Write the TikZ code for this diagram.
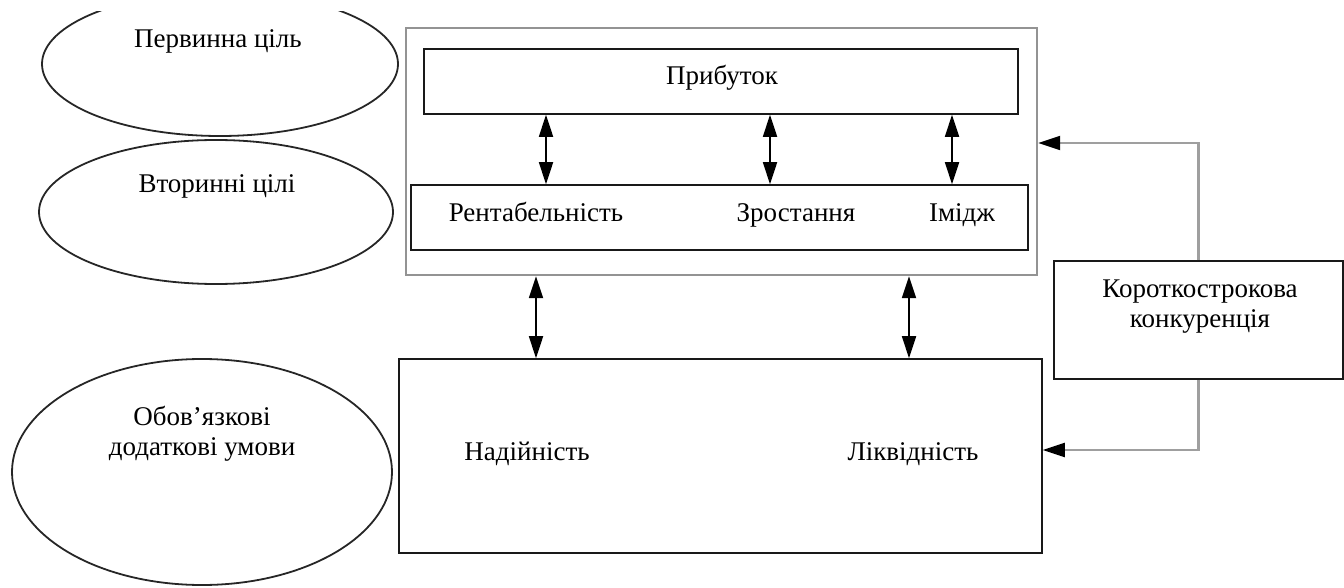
\documentclass[tikz,border=0pt]{standalone}
\usepackage{fontspec}
\setmainfont{Liberation Serif}
\usetikzlibrary{arrows.meta,positioning,shapes.geometric}
\tikzset{
  >={Triangle[length=11pt,width=7pt]},
  goal/.style={ellipse, draw=black!85, line width=0.9pt, inner sep=0pt},
  box/.style={rectangle, draw=black!90, line width=0.8pt, inner sep=0pt, fill=white},
  lbl/.style={font=\fontsize{13.5}{15}\selectfont, align=center, inner sep=0pt, anchor=base},
  link/.style={<->, line width=0.9pt},
  feed/.style={-{Triangle[length=11pt,width=7pt,color=black]}, draw=gray!75, line width=1.1pt}
}
\begin{document}
\begin{tikzpicture}[x=0.5pt, y=-0.5pt]
\useasboundingbox (0,0) rectangle (1344,588);

% --- Left column: goal ellipses ---
\begin{scope}
  \clip (0,12) rectangle (410,588);
  \node[goal, minimum width=178pt, minimum height=72pt] (goalA) at (220,64) {};
\end{scope}
\node[goal, minimum width=177pt, minimum height=72pt] (goalB) at (216,212) {};
\node[goal, minimum width=190pt, minimum height=113pt] (goalC) at (202,472) {};

\node[lbl] (goalAText) at (218,48) {Первинна ціль};
\node[lbl] (goalBText) at (217,193) {Вторинні цілі};
% base of a two-line label sits on its last line
\node[lbl] (goalCText) at (202,455) {Обов’язкові\\додаткові умови};

% --- Goal frame with its two rows ---
\node[box, draw=gray!85, line width=1.2pt, minimum width=315.5pt, minimum height=123.5pt] (goalFrame) at (721.5,151.5) {};
\node[box, minimum width=297pt, minimum height=32.5pt] (profitBox) at (721,81.5) {};
\node[lbl] (profitText) at (722,85) {Прибуток};
\node[box, minimum width=308.5pt, minimum height=32.5pt] (secBlock) at (719.5,217.5) {};
\node[lbl] (rentText) at (536,222) {Рентабельність};
\node[lbl] (growText) at (796,222) {Зростання};
\node[lbl] (imageText) at (962,222) {Імідж};

% --- Conditions block ---
\node[box, minimum width=321.5pt, minimum height=97pt] (condBlock) at (720.5,456) {};
\node[lbl] (safeText) at (527,460) {Надійність};
\node[lbl] (liqText) at (913,460) {Ліквідність};

% --- Competition box ---
\node[box, minimum width=144.5pt, minimum height=59pt] (compBox) at (1198.5,320) {};
\node[lbl] (compText) at (1200,328) {Короткострокова\\конкуренція};

% Double arrows between the rows
\coordinate (xA) at (546,0);
\coordinate (xB) at (770,0);
\coordinate (xC) at (952,0);
\coordinate (xD) at (536,0);
\coordinate (xE) at (909,0);
\foreach \x in {xA, xB, xC} {
    \draw[link] (profitBox.south -| \x) -- (secBlock.north -| \x);
}
\foreach \x in {xD, xE} {
    \draw[link] (goalFrame.south -| \x) -- (condBlock.north -| \x);
}

% Feedback from competition
\draw[feed] (compBox.north) |- ([yshift=4.25pt]goalFrame.east);
\draw[feed] (compBox.south) |- ([yshift=3pt]condBlock.east);

\end{tikzpicture}
\end{document}
